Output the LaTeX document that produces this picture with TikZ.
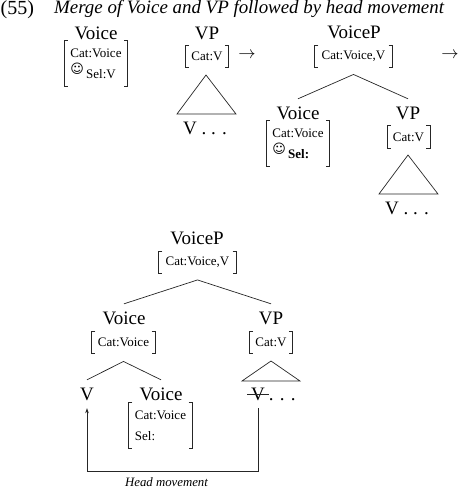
\documentclass[tikz,border=0pt]{standalone}
\usepackage{fontspec}
\setmainfont{Liberation Serif}
\newfontfamily\symbfont{DejaVu Sans}
\usetikzlibrary{calc,positioning,arrows.meta}
\newcommand{\smly}{\raisebox{5pt}{\symbfont\char"263A}\,}
\tikzset{
  lab/.style={inner xsep=0pt,inner ysep=8pt,text height=12pt,text depth=0pt,font=\fontsize{19}{21}\selectfont},
  feat/.style={inner sep=0pt,align=left,font=\fontsize{13}{21}\selectfont,
    append after command={\pgfextra{
      \draw[brk] ([xshift=3.5pt]\tikzlastnode.north west) -- (\tikzlastnode.north west)
        -- (\tikzlastnode.south west) -- ([xshift=3.5pt]\tikzlastnode.south west);
      \draw[brk] ([xshift=-3.5pt]\tikzlastnode.north east) -- (\tikzlastnode.north east)
        -- (\tikzlastnode.south east) -- ([xshift=-3.5pt]\tikzlastnode.south east);
    }}},
  brk/.style={line width=0.9pt,black!85},
  featvp/.style={feat,minimum width=42.5pt,minimum height=22pt},
  featcp/.style={feat,minimum width=77pt,minimum height=21.5pt},
  feathead/.style={feat,minimum width=63pt,minimum height=21.5pt},
  featfull/.style={feat,minimum width=63pt,minimum height=45pt},
  branch/.style={line width=0.7pt,black!85},
  step arrow/.style={font=\fontsize{18}{20}\selectfont,inner sep=0pt},
  move/.style={line width=0.7pt,black!85,-{Stealth[length=5pt,width=3.5pt]}},
}
\begin{document}
\begin{tikzpicture}[x=1pt,y=-1pt]
  \useasboundingbox (0,0) rectangle (458,488);
  \node[anchor=west,inner sep=0pt,font=\fontsize{20}{22}\selectfont] (num) at (0.5,10) {(55)};
  \node[anchor=west,inner sep=0pt,font=\fontsize{18.9}{22}\selectfont\itshape] (title) at (54,9) {Merge of Voice and VP followed by head movement};
  % first row, the two parts
  \node[lab] (voicea) at (96,33) {Voice};
  \node[featfull] (fvoicea) at (96,63.5) {Cat:Voice\\\smly Sel:V};
  \node[lab] (vpa) at (207,33) {VP};
  \node[featvp] (fvpa) at (207,56.5) {Cat:V};
  \coordinate (ta) at (206,75);
  \node[lab] (va) at (205,128) {V . . .};
  \draw[branch] (ta) -- (177,114) -- (236,114) -- cycle;
  \node[step arrow] (stepa) at (247,55) {$\rightarrow$};
  % first row, after merge
  \node[lab] (cpb) at (354,32) {VoiceP};
  \node[featcp] (fcpb) at (353.5,56.5) {Cat:Voice,V};
  \coordinate[below=7pt of fcpb] (apexb);
  \node[lab] (voiceb) at (298,113) {Voice};
  \node[featfull] (fvoiceb) at (298,143.5) {Cat:Voice\\\smly\textbf{Sel:}};
  \node[lab] (vpb) at (408,113) {VP};
  \node[featvp] (fvpb) at (408.5,137) {Cat:V};
  \coordinate (tb) at (408,155);
  \node[lab] (vb) at (407,208) {V . . .};
  \draw[branch] (voiceb.north) -- (apexb) -- (vpb.north);
  \draw[branch] (tb) -- (379,194) -- (438,194) -- cycle;
  \node[step arrow] (stepb) at (450,55) {$\rightarrow$};
  % second tree
  \node[lab] (cpc) at (197,238) {VoiceP};
  \node[featcp] (fcpc) at (197.5,262) {Cat:Voice,V};
  \coordinate[below=7pt of fcpc] (apexc);
  \node[lab] (voicec) at (124,318) {Voice};
  \node[feathead] (fvoicec) at (123.5,342.5) {Cat:Voice};
  \coordinate[below=8pt of fvoicec] (apexd);
  \node[lab] (vpc) at (271,318) {VP};
  \node[featvp] (fvpc) at (271,342.5) {Cat:V};
  \coordinate (tc) at (271,361);
  \node[lab] (vhead) at (87,394) {V};
  \node[lab] (voiced) at (161,394) {Voice};
  \node[featfull] (fvoiced) at (160.5,425.5) {Cat:Voice\\Sel:};
  \node[lab] (vtrace) at (258,394) {V};
  \node[lab,right=3.5pt of vtrace] (tracedots) {. . .};
  \node[inner sep=0pt,font=\fontsize{12.8}{15}\selectfont\itshape] (movelab) at (166.5,482) {Head movement};
  \draw[branch] (voicec.north) -- (apexc) -- (vpc.north);
  \draw[branch] (vhead.north) -- (apexd) -- (voiced.north);
  \draw[branch] (tc) -- (242,381) -- (300,381) -- cycle;
  \draw[branch,shorten <=-3.5pt,shorten >=-3.5pt] (vtrace.west) -- (vtrace.east);
  \draw[move] (vtrace.south) -- (258,471) -- (87,471) -- (vhead.south);
\end{tikzpicture}
\end{document}
